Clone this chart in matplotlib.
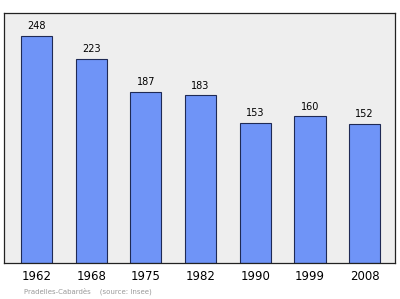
import matplotlib
matplotlib.use("Agg")
import matplotlib.pyplot as plt

years = ["1962", "1968", "1975", "1982", "1990", "1999", "2008"]
population = [248, 223, 187, 183, 153, 160, 152]

fig = plt.figure(figsize=(4.0, 2.99), dpi=100)
W, H = 400, 299
ax = fig.add_axes([4 / W, 1 - 263 / H, (395 - 4) / W, (263 - 13) / H])
ax.set_facecolor("#eeeeee")
x = range(len(years))
ax.bar(x, population, width=0.57, color="#6f94f7", edgecolor="#1f2a55", linewidth=0.8, zorder=2)
for xi, v in zip(x, population):
    ax.text(xi, v + 5, str(v), ha="center", va="bottom", fontsize=7, color="black")
ax.set_xlim(-0.594, 6.554)
ax.set_ylim(0, 273)
ax.set_yticks([])
ax.set_xticks(list(x))
ax.set_xticklabels(years, fontsize=8.5)
ax.tick_params(axis="x", length=0, pad=5)
for s in ax.spines.values():
    s.set_color("#222222")
    s.set_linewidth(0.9)
fig.text(24 / W, 1 - 291 / H, "Pradelles-Cabardès    (source: Insee)", fontsize=5, color="#999999",
         ha="left", va="center")
fig.savefig("out.png", dpi=100)
